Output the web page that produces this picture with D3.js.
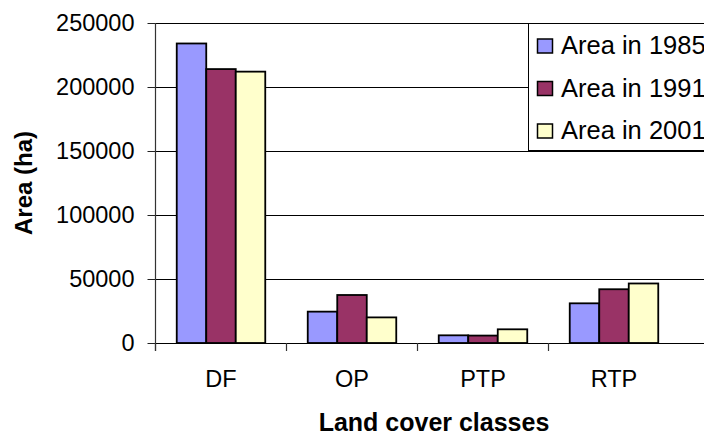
<!DOCTYPE html>
<html>
<head>
<meta charset="utf-8">
<script src="https://cdn.jsdelivr.net/npm/d3@7"></script>
<style>
  html, body { margin: 0; padding: 0; background: #fff; }
  svg { display: block; font-family: "Liberation Sans", Arial, sans-serif; }
</style>
</head>
<body>
<svg id="chart" width="704" height="437"></svg>
<script>
// Land cover classes and area (ha) per survey year
const categories = ["DF", "OP", "PTP", "RTP"];
const seriesNames = ["Area in 1985", "Area in 1991", "Area in 2001"];
const area1985 = [234000, 24500, 6000, 31000];
const area1991 = [214000, 37500, 5800, 42000];
const area2001 = [212000, 20000, 10700, 46500];
const yTicks = [0, 50000, 100000, 150000, 200000, 250000];
const seriesColors = ["#9999FF", "#993366", "#FFFFCC"];

const seriesValues = [area1985, area1991, area2001];
const W = 704, H = 437;
const plot = { left: 155.5, right: 679.5, top: 23, bottom: 343 };

const svg = d3.select("#chart");

const y = d3.scaleLinear().domain([0, 250000]).range([plot.bottom, plot.top]);
const x = d3.scaleBand().domain(categories).range([plot.left, plot.right]);
const x1 = d3.scaleBand().domain(seriesNames).range([0, x.bandwidth()])
  .paddingInner(0).paddingOuter(0.72);

// horizontal gridlines running out to the right edge
svg.append("g").selectAll("line")
  .data(yTicks.filter(t => t > 0))
  .join("line")
  .attr("x1", plot.left).attr("x2", W)
  .attr("y1", d => Math.round(y(d)) + 0.5).attr("y2", d => Math.round(y(d)) + 0.5)
  .attr("stroke", "#000").attr("stroke-width", 1);

// bars
const rows = categories.map((c, i) => ({ cat: c, vals: seriesNames.map((s, j) => ({ s, j, v: seriesValues[j][i] })) }));
svg.append("g").selectAll("g")
  .data(rows)
  .join("g")
  .attr("transform", d => `translate(${x(d.cat)},0)`)
  .selectAll("rect")
  .data(d => d.vals)
  .join("rect")
  .attr("x", d => x1(d.s))
  .attr("width", x1.bandwidth())
  .attr("y", d => y(d.v))
  .attr("height", d => y(0) - y(d.v))
  .attr("fill", d => seriesColors[d.j])
  .attr("stroke", "#000")
  .attr("stroke-width", 1.8);

// y axis
const yAxis = svg.append("g")
  .attr("transform", `translate(${plot.left},0)`)
  .call(d3.axisLeft(y).tickValues(yTicks).tickFormat(d3.format("d")).tickSize(8).tickPadding(13));
yAxis.select(".domain").remove();
yAxis.selectAll(".tick line").attr("stroke", "#222");
yAxis.selectAll("text").attr("font-size", 23.5).attr("fill", "#000")
  .attr("font-family", "Liberation Sans, Arial, sans-serif");
svg.append("line")
  .attr("x1", plot.left).attr("x2", plot.left)
  .attr("y1", plot.top).attr("y2", plot.bottom + 8)
  .attr("stroke", "#333").attr("stroke-width", 1.2);

// x axis baseline, category boundary ticks and labels
svg.append("line")
  .attr("x1", plot.left).attr("x2", W)
  .attr("y1", plot.bottom + 0.5).attr("y2", plot.bottom + 0.5)
  .attr("stroke", "#000");
svg.append("g").selectAll("line")
  .data(categories)
  .join("line")
  .attr("x1", d => x(d)).attr("x2", d => x(d))
  .attr("y1", plot.bottom).attr("y2", plot.bottom + 8)
  .attr("stroke", "#333").attr("stroke-width", 1.2);
svg.append("g").selectAll("text")
  .data(categories)
  .join("text")
  .attr("x", d => x(d) + x.bandwidth() / 2)
  .attr("y", 387)
  .attr("text-anchor", "middle")
  .attr("font-size", 23.5)
  .text(d => d);

// axis titles
svg.append("text")
  .attr("x", 434).attr("y", 431)
  .attr("text-anchor", "middle")
  .attr("font-size", 25).attr("font-weight", "bold")
  .text("Land cover classes");
svg.append("text")
  .attr("transform", `translate(32,${(plot.top + plot.bottom) / 2}) rotate(-90)`)
  .attr("text-anchor", "middle")
  .attr("font-size", 24).attr("font-weight", "bold")
  .text("Area (ha)");

// legend
const legend = svg.append("g");
legend.append("rect")
  .attr("x", 528.5).attr("y", 23.5).attr("width", 200).attr("height", 127)
  .attr("fill", "#fff").attr("stroke", "#000");
const item = legend.selectAll("g.item")
  .data(seriesNames)
  .join("g").attr("class", "item")
  .attr("transform", (d, i) => `translate(0,${46 + i * 42.5})`);
item.append("rect")
  .attr("x", 537.5).attr("y", -7).attr("width", 15).attr("height", 14)
  .attr("fill", (d, i) => seriesColors[i]).attr("stroke", "#000").attr("stroke-width", 1.5);
item.append("text")
  .attr("x", 561).attr("y", 8)
  .attr("font-size", 25.5)
  .text(d => d);
</script>
</body>
</html>
